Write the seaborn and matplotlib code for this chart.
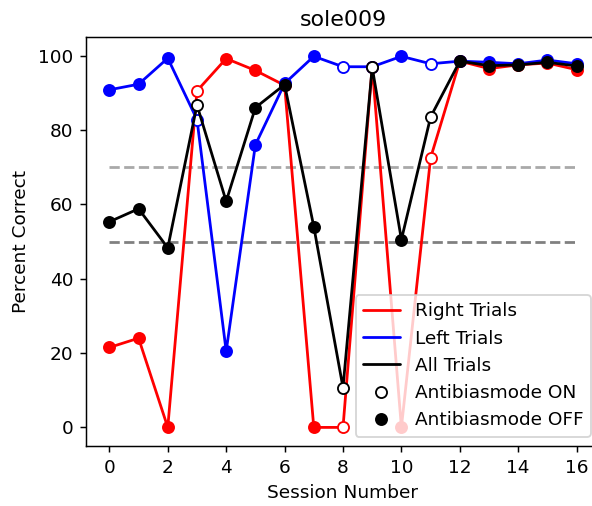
import numpy as np
import pandas as pd
import matplotlib
matplotlib.use("Agg")
import matplotlib.pyplot as plt
from matplotlib.lines import Line2D
import seaborn as sns

sessions = list(range(17))
right_trials = [21.5, 24.0, 0.0, 90.5, 99.2, 96.0, 92.0, 0.0, 0.0, 97.0, 0.0, 72.5, 98.5, 96.5, 97.5, 98.0, 96.2]
left_trials = [90.8, 92.3, 99.3, 82.8, 20.5, 76.0, 92.5, 99.8, 97.0, 97.0, 99.8, 97.8, 98.5, 98.2, 97.8, 98.8, 97.8]
all_trials = [55.3, 58.8, 48.3, 86.7, 60.8, 86.0, 92.2, 54.0, 10.7, 96.8, 50.5, 83.5, 98.5, 97.3, 97.5, 98.2, 97.2]
antibias_on = [False, False, False, True, False, False, False, False, True, True, False, True,
               False, False, False, False, False]

series_names = ["Right Trials", "Left Trials", "All Trials"]
series_colors = ["red", "blue", "black"]
thresholds = [70, 50]
threshold_colors = ["darkgray", "gray"]

df = pd.DataFrame({
    "session": sessions * 3,
    "pct": right_trials + left_trials + all_trials,
    "series": [n for n in series_names for _ in sessions],
    "on": antibias_on * 3,
})

sns.set_style("white")
plt.rcParams["font.family"] = ["DejaVu Sans"]
plt.rcParams["font.size"] = 10
for k in ["text.color", "axes.labelcolor", "xtick.color", "ytick.color"]:
    plt.rcParams[k] = "black"

DPI = 133
fig = plt.figure(figsize=(592 / DPI, 506 / DPI), dpi=DPI)
ax = fig.add_axes([86 / 592, 60 / 506, 514 / 592, 409 / 506])

for i, (name, col) in enumerate(zip(series_names, series_colors)):
    sub = df[df["series"] == name]
    sns.lineplot(data=sub, x="session", y="pct", color=col, lw=1.5, ax=ax,
                 zorder=3 + i, legend=False, estimator=None, sort=False)
    off = sub[~sub["on"]]
    on = sub[sub["on"]]
    sns.scatterplot(data=off, x="session", y="pct", color=col, edgecolor=col,
                    s=36, linewidth=1.0, ax=ax, zorder=3.5 + i, legend=False)
    sns.scatterplot(data=on, x="session", y="pct", color="white", edgecolor=col,
                    s=36, linewidth=1.0, ax=ax, zorder=3.5 + i, legend=False)

for t, c in zip(thresholds, threshold_colors):
    ax.plot([sessions[0], sessions[-1]], [t, t], "--", color=c, lw=1.5, zorder=2)

ax.set_xlim(-0.8, 16.8)
ax.set_ylim(-5, 105)
ax.set_xticks(range(0, 17, 2))
ax.set_yticks(range(0, 101, 20))
ax.tick_params(axis="both", which="both", direction="out", length=3.5, width=0.8,
               bottom=True, left=True, labelsize=10, colors="black")
for sp in ax.spines.values():
    sp.set_visible(True)
    sp.set_color("black")
    sp.set_linewidth(0.8)

ax.set_xlabel("Session Number", fontsize=10)
ax.set_ylabel("Percent Correct", fontsize=10)
ax.set_title("sole009", fontsize=12)

handles = [Line2D([], [], color=c, lw=1.5) for c in series_colors]
handles += [Line2D([], [], ls="", marker="o", mfc="white", mec="black", ms=6),
            Line2D([], [], ls="", marker="o", mfc="black", mec="black", ms=6)]
labels = series_names + ["Antibiasmode ON", "Antibiasmode OFF"]
leg = ax.legend(handles, labels, loc="lower right", framealpha=0.8, fancybox=True,
                edgecolor="0.8", fontsize=10)
leg.set_zorder(10)

fig.savefig("out.png", dpi=DPI)
